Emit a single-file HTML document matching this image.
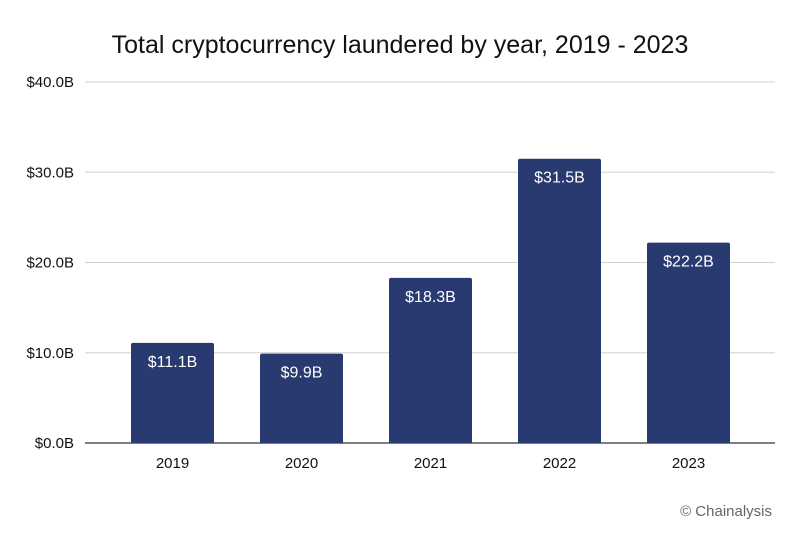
<!DOCTYPE html>
<html><head><meta charset="utf-8"><style>
html,body{margin:0;padding:0;background:#fff;}
body{width:800px;height:531px;overflow:hidden;font-family:"Liberation Sans",sans-serif;}
</style></head><body>
<svg id="chart" width="800" height="531" xmlns="http://www.w3.org/2000/svg">
<text x="400" y="53" text-anchor="middle" font-size="25" fill="#111">Total cryptocurrency laundered by year, 2019 - 2023</text>
<g id="grid"></g><g id="bars"></g><g id="labels"></g>
<text x="772" y="516" text-anchor="end" font-size="15" fill="#666">© Chainalysis</text>
</svg>
<script>
const categories = ["2019","2020","2021","2022","2023"];
const values = [11.1, 9.9, 18.3, 31.5, 22.2];
const valueLabels = ["$11.1B","$9.9B","$18.3B","$31.5B","$22.2B"];
const yTicks = [0, 10, 20, 30, 40];
const yTickLabels = ["$0.0B","$10.0B","$20.0B","$30.0B","$40.0B"];

const NS = "http://www.w3.org/2000/svg";
const y0 = 443, y40 = 82, plotL = 85, plotR = 775, bandL = 108, band = 129, barW = 83;
function y(v){ return y0 - (v/40)*(y0-y40); }
function xc(i){ return bandL + band*(i+0.5); }
function mk(tag, attrs, parent){ const e=document.createElementNS(NS,tag); for(const k in attrs) e.setAttribute(k,attrs[k]); parent.appendChild(e); return e; }
const grid=document.getElementById('grid'), bars=document.getElementById('bars'), labels=document.getElementById('labels');
yTicks.forEach((t,i)=>{
  const l=mk('line',{x1:plotL,x2:plotR,y1:y(t),y2:y(t),stroke:t===0?'#333':'#d0d0d0','stroke-width':t===0?1.3:1},grid);
  
  
  const tx=mk('text',{x:74,y:y(t)+5,'text-anchor':'end','font-size':15,fill:'#111'},grid);
  tx.textContent=yTickLabels[i];
  
  
});
categories.forEach((c,i)=>{
  const top=y(values[i]);
  const r=mk('path',{d:`M${xc(i)-barW/2},${y0} V${top+2} Q${xc(i)-barW/2},${top} ${xc(i)-barW/2+2},${top} H${xc(i)+barW/2-2} Q${xc(i)+barW/2},${top} ${xc(i)+barW/2},${top+2} V${y0} Z`,fill:'#293a70'},bars);
  
  
  const v=mk('text',{x:xc(i),y:top+24,'text-anchor':'middle','font-size':16,fill:'#fff'},labels);
  v.textContent=valueLabels[i];
  
  
  const xt=mk('text',{x:xc(i),y:468,'text-anchor':'middle','font-size':15,fill:'#111'},labels);
  xt.textContent=c;
  
  
});
</script>
</body></html>
